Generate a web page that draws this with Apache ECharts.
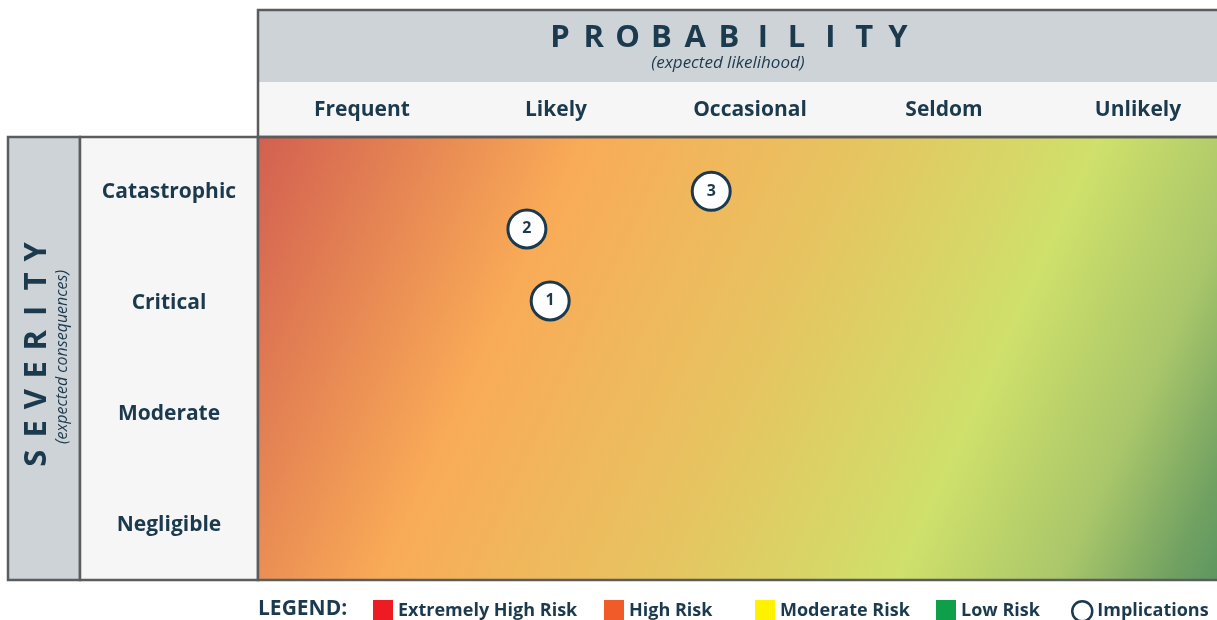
<!DOCTYPE html>
<html>
<head>
<meta charset="utf-8">
<script src="https://cdn.jsdelivr.net/npm/echarts@6/dist/echarts.min.js"></script>
<style>
  html, body { margin: 0; padding: 0; background: #fff; }
  #main { width: 1217px; height: 620px; }
</style>
</head>
<body>
<div id="main"></div>
<script>
// data
const probability = ["Frequent", "Likely", "Occasional", "Seldom", "Unlikely"];
const severity = ["Negligible", "Moderate", "Critical", "Catastrophic"];
const implicationIds = [1, 2, 3];
const implicationProbability = [1.47, 1.35, 2.3]; // 0..5 along probability
const implicationSeverity = [2.52, 3.17, 3.51]; // 0..4 along severity
const riskLevels = ["Extremely High Risk", "High Risk", "Moderate Risk", "Low Risk"];

// styles
const riskColors = ["#ed1c24", "#f15a29", "#fff200", "#0f9f4b"];
const legendLefts = [373, 604, 755, 936, 1071];
const navy = "#1b3a4e";
const frame = "#5b5c5e";
const font = "'Open Sans', 'Noto Sans', sans-serif";

const chart = echarts.init(document.getElementById("main"));

// spaced title letters
function spacedLetters(word, cx, cy, step, vertical) {
  const n = word.length;
  return word.split("").map(function (ch, i) {
    const off = (i - (n - 1) / 2) * step;
    return {
      type: "text",
      x: vertical ? cx : cx + off,
      y: vertical ? cy - off : cy,
      rotation: vertical ? Math.PI / 2 : 0,
      z: 10,
      style: {
        text: ch,
        fill: navy,
        font: "bold 31px " + font,
        align: "center",
        verticalAlign: "middle",
      },
    };
  });
}

const scatterData = implicationIds.map(function (id, i) {
  return [implicationProbability[i], implicationSeverity[i], id];
});

const riskSeries = riskLevels.map(function (name, i) {
  return {
    name: name,
    type: "bar",
    data: [],
    itemStyle: { color: riskColors[i] },
  };
});

// one legend per entry so the uneven spacing can be kept
const legendItems = riskLevels
  .map(function (n) { return { name: n, icon: "rect" }; })
  .concat([{
    name: "Implications",
    icon: "circle",
    itemStyle: { color: "#fff", borderColor: navy, borderWidth: 2.5 },
  }]);

const legends = legendItems.map(function (item, i) {
  return {
    left: legendLefts[i],
    top: 600,
    padding: 0,
    itemWidth: 20,
    itemHeight: 22,
    itemStyle: { borderWidth: 0 },
    selectedMode: false,
    textStyle: { color: navy, fontFamily: font, fontSize: 18, fontWeight: "bold" },
    data: [item],
  };
});

const option = {
  animation: false,
  grid: { left: 265, top: 137, width: 970, height: 443, outerBoundsMode: "none" },
  xAxis: [
    {
      type: "category",
      data: probability,
      position: "top",
      axisLine: { show: false },
      axisTick: { show: false },
      splitLine: { show: false },
      axisLabel: {
        color: navy,
        fontFamily: font,
        fontSize: 21,
        fontWeight: "bold",
        margin: 16,
      },
    },
    { type: "value", min: 0, max: 5, show: false },
  ],
  yAxis: [
    {
      type: "category",
      data: severity,
      axisLine: { show: false },
      axisTick: { show: false },
      splitLine: { show: false },
      axisLabel: {
        color: navy,
        fontFamily: font,
        fontSize: 21,
        fontWeight: "bold",
        align: "center",
        margin: 96,
      },
    },
    { type: "value", min: 0, max: 4, show: false },
  ],
  legend: legends,
  graphic: [
    // header
    { type: "rect", z: 0, shape: { x: 258, y: 10, width: 970, height: 72 }, style: { fill: "#ced3d7" } },
    { type: "rect", z: 0, shape: { x: 258, y: 82, width: 970, height: 55 }, style: { fill: "#f6f6f6" } },
    { type: "rect", z: 1, shape: { x: 258, y: 10, width: 975, height: 127 }, style: { fill: null, stroke: frame, lineWidth: 2.5 } },
    // left panel
    { type: "rect", z: 0, shape: { x: 8, y: 137, width: 72, height: 443 }, style: { fill: "#ced3d7", stroke: frame, lineWidth: 2.5 } },
    { type: "rect", z: 0, shape: { x: 80, y: 137, width: 178, height: 443 }, style: { fill: "#f6f6f6", stroke: frame, lineWidth: 2.5 } },
    // risk gradient
    {
      type: "rect",
      z: 0,
      shape: { x: 258, y: 137, width: 965, height: 443 },
      style: {
        fill: new echarts.graphic.LinearGradient(0, 0, 1, 1, [
          { offset: 0, color: "#d25f50" },
          { offset: 0.28, color: "#f9ab57" },
          { offset: 0.5, color: "#e8c260" },
          { offset: 0.72, color: "#cfe06b" },
          { offset: 0.86, color: "#a9c66a" },
          { offset: 0.95, color: "#72a262" },
          { offset: 1, color: "#5a9460" },
        ]),
        stroke: frame,
        lineWidth: 2.5,
      },
    },
    {
      type: "text",
      x: 728,
      y: 63,
      z: 10,
      style: {
        text: "(expected likelihood)",
        fill: navy,
        font: "italic 17px " + font,
        align: "center",
        verticalAlign: "middle",
      },
    },
    {
      type: "text",
      x: 62,
      y: 357,
      z: 10,
      rotation: Math.PI / 2,
      style: {
        text: "(expected consequences)",
        fill: navy,
        font: "italic 16px " + font,
        align: "center",
        verticalAlign: "middle",
      },
    },
    {
      type: "text",
      x: 258,
      y: 609,
      z: 10,
      style: {
        text: "LEGEND:",
        fill: navy,
        font: "bold 21px " + font,
        align: "left",
        verticalAlign: "middle",
      },
    },
  ]
    .concat(spacedLetters("PROBABILITY", 729, 38, 33.8, false))
    .concat(spacedLetters("SEVERITY", 37, 355, 29.5, true)),
  series: riskSeries.concat([
    {
      name: "Implications",
      type: "scatter",
      xAxisIndex: 1,
      yAxisIndex: 1,
      z: 5,
      symbolSize: 38,
      data: scatterData,
      itemStyle: { color: "#fff", borderColor: navy, borderWidth: 3, opacity: 1 },
      label: {
        show: true,
        position: "inside",
        formatter: function (p) { return p.value[2]; },
        color: navy,
        fontFamily: font,
        fontSize: 16,
        fontWeight: "bold",
      },
    },
  ]),
};

chart.setOption(option);
</script>
</body>
</html>
